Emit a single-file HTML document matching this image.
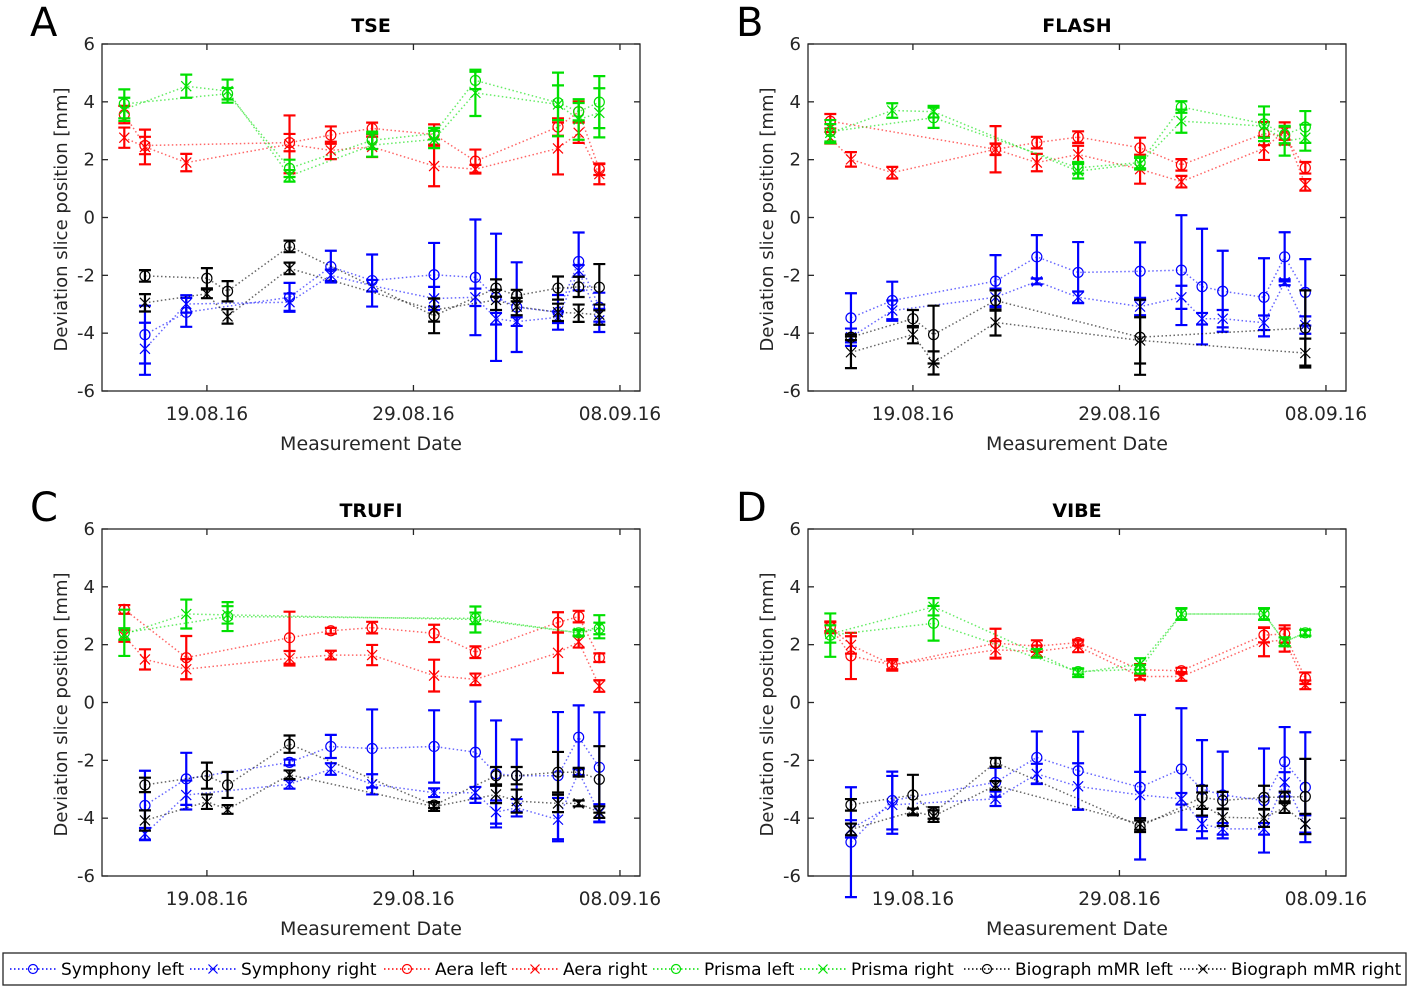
<!DOCTYPE html>
<html><head><meta charset="utf-8"><style>
html,body{margin:0;padding:0;background:#fff;}
svg{display:block;font-family:"DejaVu Sans","Liberation Sans",sans-serif;}
</style></head><body>
<svg id="chart" width="1410" height="988" viewBox="0 0 1410 988" xmlns="http://www.w3.org/2000/svg"></svg>
<script>
// x values are days relative to 19.08.16
const xTickDays = [0, 10, 20];
const xTickLabels = ["19.08.16", "29.08.16", "08.09.16"];
const yTicks = [-6, -4, -2, 0, 2, 4, 6];
const seriesNames = ["Symphony left","Symphony right","Aera left","Aera right","Prisma left","Prisma right","Biograph mMR left","Biograph mMR right"];
const panelTitles = ["TSE","FLASH","TRUFI","VIBE"];
const panelLetters = ["A","B","C","D"];

// each entry: [day, mean deviation mm, error mm]
const tseSymLeft = [[-3,-4.05,1.0],[-1,-3.28,0.5],[4,-2.76,0.5],[6,-1.7,0.55],[8,-2.18,0.9],[11,-1.98,1.1],[13,-2.07,2.0],[14,-2.76,2.2],[15,-3.1,1.55],[17,-3.28,0.6],[18,-1.52,1.0],[19,-3.1,0.5]];
const tseSymRight = [[-3,-4.54,0.9],[-1,-2.99,0.3],[4,-2.93,0.3],[6,-2.0,0.2],[8,-2.36,0.2],[11,-2.8,0.4],[13,-2.76,0.3],[14,-3.5,0.2],[15,-3.6,0.15],[17,-3.45,0.2],[18,-1.84,0.2],[19,-3.56,0.4]];
const tseAeraLeft = [[-4,3.56,0.3],[-3,2.49,0.3],[4,2.59,0.3],[6,2.85,0.3],[8,3.08,0.2],[11,2.87,0.35],[13,1.95,0.4],[17,3.13,0.3],[18,3.66,0.35],[19,1.67,0.2]];
const tseAeraRight = [[-4,2.76,0.35],[-3,2.44,0.6],[-1,1.9,0.3],[4,2.53,1.0],[6,2.32,0.3],[8,2.44,0.35],[11,1.78,0.7],[13,1.67,0.15],[17,2.39,0.9],[18,2.93,0.35],[19,1.5,0.35]];
const tsePrismaLeft = [[-4,3.93,0.5],[1,4.28,0.2],[4,1.7,0.3],[8,2.67,0.3],[11,2.9,0.2],[13,4.74,0.3],[17,3.97,0.6],[18,3.66,0.3],[19,3.99,0.9]];
const tsePrismaRight = [[-4,3.74,0.4],[-1,4.54,0.4],[1,4.37,0.4],[4,1.44,0.2],[8,2.5,0.4],[11,2.7,0.3],[13,4.31,0.8],[17,3.91,1.1],[18,3.39,0.7],[19,3.62,0.85]];
const tseBioLeft = [[-3,-2.02,0.2],[0,-2.1,0.35],[1,-2.55,0.35],[4,-1.0,0.2],[11,-3.4,0.6],[14,-2.44,0.3],[15,-2.7,0.2],[17,-2.44,0.4],[18,-2.4,0.35],[19,-2.41,0.8]];
const tseBioRight = [[-3,-2.95,0.3],[0,-2.64,0.15],[1,-3.42,0.25],[4,-1.76,0.2],[11,-3.2,0.4],[14,-2.85,0.35],[15,-3.08,0.3],[17,-3.28,0.3],[18,-3.31,0.3],[19,-3.36,0.35]];

const flashSymLeft = [[-3,-3.47,0.85],[-1,-2.87,0.65],[4,-2.2,0.9],[6,-1.36,0.75],[8,-1.9,1.05],[11,-1.86,1.0],[13,-1.82,1.9],[14,-2.39,2.0],[15,-2.55,1.4],[17,-2.76,1.35],[18,-1.36,0.85],[19,-2.59,1.15]];
const flashSymRight = [[-3,-4.14,0.3],[-1,-3.22,0.35],[4,-2.76,0.3],[6,-2.21,0.1],[8,-2.76,0.2],[11,-3.08,0.3],[13,-2.76,0.4],[14,-3.5,0.2],[15,-3.5,0.3],[17,-3.64,0.25],[18,-2.24,0.1],[19,-3.72,0.3]];
const flashAeraLeft = [[-4,3.33,0.25],[4,2.36,0.2],[6,2.59,0.2],[8,2.78,0.2],[11,2.41,0.35],[13,1.82,0.2],[17,2.9,0.4],[18,2.82,0.3],[19,1.72,0.2]];
const flashAeraRight = [[-4,2.76,0.2],[-3,2.01,0.25],[-1,1.55,0.2],[4,2.36,0.8],[6,1.9,0.3],[8,2.18,0.3],[11,1.67,0.5],[13,1.24,0.2],[17,2.39,0.4],[18,2.99,0.3],[19,1.13,0.2]];
const flashPrismaLeft = [[-4,2.97,0.4],[1,3.45,0.35],[8,1.72,0.2],[11,1.9,0.2],[13,3.82,0.2],[17,3.24,0.6],[18,2.87,0.3],[19,3.13,0.55]];
const flashPrismaRight = [[-4,2.93,0.3],[-1,3.7,0.25],[1,3.66,0.2],[8,1.6,0.25],[11,1.86,0.2],[13,3.33,0.4],[17,3.16,0.4],[18,2.64,0.5],[19,2.76,0.45]];
const flashBioLeft = [[-3,-4.14,0.1],[0,-3.5,0.3],[1,-4.05,1.0],[4,-2.87,0.35],[11,-4.14,1.3],[19,-3.82,1.3]];
const flashBioRight = [[-3,-4.66,0.55],[0,-4.05,0.3],[1,-5.03,0.4],[4,-3.63,0.45],[11,-4.25,0.8],[19,-4.69,0.5]];

const trufiSymLeft = [[-3,-3.56,1.2],[-1,-2.64,0.9],[4,-2.07,0.1],[6,-1.52,0.4],[8,-1.59,1.35],[11,-1.52,1.25],[13,-1.72,1.75],[14,-2.47,1.85],[15,-2.53,1.25],[17,-2.53,2.2],[18,-1.2,1.1],[19,-2.24,1.9]];
const trufiSymRight = [[-3,-4.54,0.2],[-1,-3.2,0.5],[4,-2.83,0.15],[6,-2.3,0.2],[8,-2.83,0.35],[11,-3.12,0.15],[13,-3.12,0.2],[14,-3.79,0.4],[15,-3.64,0.3],[17,-4.05,0.75],[18,-2.41,0.1],[19,-3.82,0.3]];
const trufiAeraLeft = [[-4,3.22,0.15],[-1,1.55,0.75],[4,2.24,0.9],[6,2.48,0.1],[8,2.59,0.2],[11,2.39,0.3],[13,1.74,0.2],[17,2.77,0.35],[18,2.97,0.2],[19,1.55,0.15]];
const trufiAeraRight = [[-4,2.3,0.2],[-3,1.49,0.35],[-1,1.15,0.35],[4,1.53,0.25],[6,1.64,0.15],[8,1.64,0.35],[11,0.93,0.55],[13,0.8,0.2],[17,1.72,0.7],[18,2.1,0.2],[19,0.57,0.2]];
const trufiPrismaLeft = [[-4,2.41,0.8],[1,2.97,0.5],[13,2.91,0.2],[18,2.41,0.1],[19,2.56,0.2]];
const trufiPrismaRight = [[-4,2.37,0.2],[-1,3.06,0.5],[1,3.03,0.3],[13,2.87,0.45],[18,2.41,0.1],[19,2.62,0.4]];
const trufiBioLeft = [[-3,-2.85,0.25],[0,-2.53,0.45],[1,-2.85,0.45],[4,-1.44,0.3],[11,-3.55,0.1],[14,-2.53,0.3],[15,-2.53,0.3],[17,-2.41,0.7],[18,-2.41,0.15],[19,-2.66,1.15]];
const trufiBioRight = [[-3,-4.08,0.35],[0,-3.43,0.25],[1,-3.7,0.15],[4,-2.5,0.15],[11,-3.6,0.15],[14,-3.18,0.3],[15,-3.41,0.4],[17,-3.49,0.3],[18,-3.49,0.1],[19,-3.79,0.2]];

const vibeSymLeft = [[-3,-4.83,1.9],[-1,-3.39,1.0],[4,-2.76,0.5],[6,-1.9,0.9],[8,-2.36,1.35],[11,-2.93,2.5],[13,-2.3,2.1],[14,-3.0,1.7],[15,-3.2,1.5],[17,-3.39,1.8],[18,-2.05,1.2],[19,-2.93,1.9]];
const vibeSymRight = [[-3,-4.37,0.3],[-1,-3.54,1.0],[4,-3.33,0.25],[6,-2.47,0.35],[8,-2.9,0.8],[11,-3.2,0.8],[13,-3.33,0.2],[14,-4.2,0.25],[15,-4.37,0.2],[17,-4.37,0.2],[18,-2.76,0.35],[19,-4.2,0.3]];
const vibeAeraLeft = [[-4,2.62,0.15],[-3,1.61,0.8],[-1,1.3,0.15],[4,2.05,0.5],[6,1.95,0.2],[8,2.07,0.1],[11,1.13,0.2],[13,1.1,0.1],[17,2.33,0.25],[18,2.37,0.3],[19,0.84,0.2]];
const vibeAeraRight = [[-4,2.6,0.2],[-3,1.99,0.3],[-1,1.3,0.2],[4,1.82,0.3],[6,1.77,0.2],[8,1.94,0.2],[11,0.9,0.1],[13,0.9,0.15],[17,2.1,0.5],[18,2.16,0.4],[19,0.61,0.15]];
const vibePrismaLeft = [[-4,2.33,0.75],[1,2.74,0.6],[8,1.07,0.1],[11,1.15,0.15],[13,3.06,0.2],[17,3.06,0.2],[18,2.1,0.15],[19,2.41,0.1]];
const vibePrismaRight = [[-4,2.37,0.3],[1,3.31,0.3],[6,1.7,0.15],[8,1.03,0.15],[11,1.33,0.2],[13,3.06,0.2],[17,3.06,0.2],[18,2.1,0.15],[19,2.41,0.1]];
const vibeBioLeft = [[-3,-3.54,0.2],[0,-3.2,0.7],[1,-3.82,0.2],[4,-2.07,0.15],[11,-4.28,0.2],[14,-3.28,0.4],[15,-3.39,0.3],[17,-3.28,0.4],[18,-3.28,0.2],[19,-3.25,1.3]];
const vibeBioRight = [[-3,-4.39,0.2],[0,-3.77,0.1],[1,-3.93,0.2],[4,-2.87,0.15],[11,-4.2,0.2],[14,-3.51,0.4],[15,-3.97,0.3],[17,-4.0,0.3],[18,-3.62,0.2],[19,-4.2,0.35]];

const panelData = [
  [tseSymLeft,tseSymRight,tseAeraLeft,tseAeraRight,tsePrismaLeft,tsePrismaRight,tseBioLeft,tseBioRight],
  [flashSymLeft,flashSymRight,flashAeraLeft,flashAeraRight,flashPrismaLeft,flashPrismaRight,flashBioLeft,flashBioRight],
  [trufiSymLeft,trufiSymRight,trufiAeraLeft,trufiAeraRight,trufiPrismaLeft,trufiPrismaRight,trufiBioLeft,trufiBioRight],
  [vibeSymLeft,vibeSymRight,vibeAeraLeft,vibeAeraRight,vibePrismaLeft,vibePrismaRight,vibeBioLeft,vibeBioRight]
];

const colors = ["#0000ff","#0000ff","#ff0000","#ff0000","#00e000","#00e000","#000000","#000000"];
const markers = ["o","x","o","x","o","x","o","x"];
const NS = "http://www.w3.org/2000/svg";
const svg = document.getElementById("chart");
function mk(tag, attrs, parent){ const e=document.createElementNS(NS,tag); for(const k in attrs) e.setAttribute(k,attrs[k]); (parent||svg).appendChild(e); return e; }

const panels = [{l:102,t:44},{l:808,t:44},{l:102,t:529},{l:808,t:529}];
const PW = 538, PH = 347, XMIN = -5.08, XMAX = 20.97, YMIN = -6, YMAX = 6;
const slugs = ["tse","flash","trufi","vibe"];

panels.forEach((p, pi) => {
  const g = mk("g", {});
  
  
  const xs = d => p.l + (d - XMIN) / (XMAX - XMIN) * PW;
  const ys = v => p.t + (YMAX - v) / (YMAX - YMIN) * PH;
  const frame = mk("rect", {x:p.l, y:p.t, width:PW, height:PH, fill:"#fff", stroke:"#262626", "stroke-width":1.3}, g);
  
  
  yTicks.forEach(v => {
    const y = ys(v);
    mk("line", {x1:p.l, x2:p.l+6, y1:y, y2:y, stroke:"#262626", "stroke-width":1.3}, g);
    mk("line", {x1:p.l+PW-6, x2:p.l+PW, y1:y, y2:y, stroke:"#262626", "stroke-width":1.3}, g);
    const t = mk("text", {x:p.l-7, y:y+6, "text-anchor":"end", "font-size":18, fill:"#262626"}, g);
    t.textContent = v;
    
    
  });
  xTickDays.forEach((d, i) => {
    const x = xs(d);
    mk("line", {x1:x, x2:x, y1:p.t+PH, y2:p.t+PH-6, stroke:"#262626", "stroke-width":1.3}, g);
    mk("line", {x1:x, x2:x, y1:p.t, y2:p.t+6, stroke:"#262626", "stroke-width":1.3}, g);
    const t = mk("text", {x:x, y:p.t+PH+29, "text-anchor":"middle", "font-size":18.5, fill:"#262626"}, g);
    t.textContent = xTickLabels[i];
    
    
  });
  const xl = mk("text", {x:p.l+PW/2, y:p.t+PH+59, "text-anchor":"middle", "font-size":19, fill:"#262626"}, g);
  xl.textContent = "Measurement Date";
  
  
  const yl = mk("text", {x:0, y:0, "text-anchor":"middle", "font-size":18, fill:"#262626", transform:`translate(${p.l-35},${p.t+PH/2+2}) rotate(-90)`}, g);
  yl.textContent = "Deviation slice position [mm]";
  
  
  const tt = mk("text", {x:p.l+PW/2, y:p.t-12, "text-anchor":"middle", "font-size":19, "font-weight":"bold", fill:"#000"}, g);
  tt.textContent = panelTitles[pi];
  
  
  const lt = mk("text", {x:p.l-72, y:p.t-8, "font-size":40, fill:"#000"}, g);
  lt.textContent = panelLetters[pi];
  
  

  panelData[pi].forEach((ser, si) => {
    const c = colors[si];
    const sg = mk("g", {}, g);
    
    
    const pts = ser.map(r => xs(r[0]).toFixed(1) + "," + ys(r[1]).toFixed(1)).join(" ");
    mk("polyline", {points:pts, fill:"none", stroke:c, "stroke-width":1.5, "stroke-dasharray":"1.5 2.5", opacity:0.6}, sg);
    ser.forEach(r => {
      const x = xs(r[0]), y = ys(r[1]), y1 = ys(r[1]+r[2]), y2 = ys(r[1]-r[2]);
      const eb = mk("path", {d:`M${x},${y1}V${y2}M${x-6},${y1}H${x+6}M${x-6},${y2}H${x+6}`, stroke:c, "stroke-width":2.2, fill:"none"}, sg);
      
      
      let m;
      if (markers[si] === "o") m = mk("circle", {cx:x, cy:y, r:5, fill:"none", stroke:c, "stroke-width":1.2}, sg);
      else m = mk("path", {d:`M${x-5},${y-5}L${x+5},${y+5}M${x-5},${y+5}L${x+5},${y-5}`, stroke:c, "stroke-width":1.2}, sg);
      
      
    });
  });
});

// legend
const lg = mk("g", {});


mk("rect", {x:3, y:953, width:1403, height:32, fill:"#fff", stroke:"#262626", "stroke-width":1.3}, lg);
const legendX = [10, 190, 384, 512, 653, 800, 964, 1180];
seriesNames.forEach((n, i) => {
  const eg = mk("g", {}, lg);
  
  
  const x = legendX[i], y = 969, c = colors[i];
  mk("line", {x1:x, x2:x+46, y1:y, y2:y, stroke:c, "stroke-width":1.5, "stroke-dasharray":"1.5 2.5"}, eg);
  if (markers[i] === "o") mk("circle", {cx:x+23, cy:y, r:4.5, fill:"none", stroke:c, "stroke-width":1.2}, eg);
  else mk("path", {d:`M${x+18.5},${y-4.5}L${x+27.5},${y+4.5}M${x+18.5},${y+4.5}L${x+27.5},${y-4.5}`, stroke:c, "stroke-width":1.2}, eg);
  const t = mk("text", {x:x+51, y:y+6, "font-size":17, fill:"#000"}, eg);
  t.textContent = n;
});
</script>
</body></html>
